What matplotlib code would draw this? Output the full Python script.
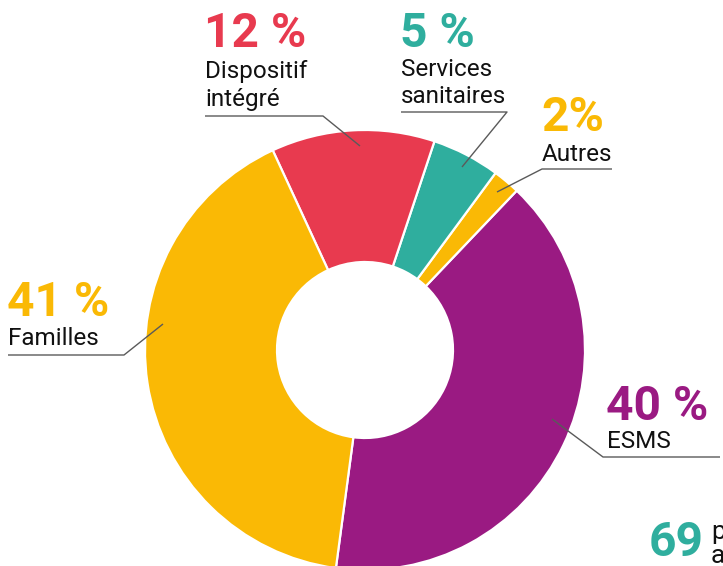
import matplotlib
matplotlib.use("Agg")
import matplotlib.pyplot as plt

# parts du donut, dans l'ordre anti-horaire depuis le bas
labels = ["ESMS", "Autres", "Services\nsanitaires", "Dispositif\nintégré", "Familles"]
values = [40, 2, 5, 12, 41]
pct_text = ["40 %", "2%", "5 %", "12 %", "41 %"]
colors = ["#9A1A82", "#FAB905", "#2FAE9E", "#E83A4F", "#FAB905"]

W, H = 723, 566

def Y(y):
    # coordonnées écran (y vers le bas) -> données
    return H - y

fig = plt.figure(figsize=(W / 100, H / 100), dpi=100)
ax = fig.add_axes([0, 0, 1, 1])

ax.pie(values, colors=colors, startangle=262.4, counterclock=True,
       center=(365, Y(350)), radius=220,
       wedgeprops=dict(width=132, edgecolor="white", linewidth=1.6))
ax.set_xlim(0, W)
ax.set_ylim(0, H)
ax.set_aspect("equal")
ax.axis("off")

# placement des étiquettes (x texte, baseline %, baselines texte, ligne de rappel)
layout = {
    "ESMS": dict(x=606, pb=420, lb=[448], line=[(552, 419), (603, 457), (720, 457)]),
    "Autres": dict(x=541, pb=131, lb=[161], line=[(497, 192), (542, 169), (612, 169)]),
    "Services\nsanitaires": dict(x=400, pb=47, lb=[76, 103], line=[(462, 167), (507, 112), (401, 112)]),
    "Dispositif\nintégré": dict(x=204, pb=47, lb=[78, 106], line=[(360, 146), (323, 116), (205, 116)]),
    "Familles": dict(x=7, pb=316, lb=[345], line=[(163, 324), (124, 355), (8, 355)]),
}

FONT = ["Roboto", "DejaVu Sans"]

for lab, pct, col in zip(labels, pct_text, colors):
    L = layout[lab]
    ax.text(L["x"], Y(L["pb"]), pct, color=col, fontsize=34.5, fontweight="bold",
            family=FONT, ha="left", va="baseline")
    for line, b in zip(lab.split("\n"), L["lb"]):
        ax.text(L["x"] + 1, Y(b), line, color="#111111", fontsize=17.5,
                family=FONT, ha="left", va="baseline")
    xs = [p[0] for p in L["line"]]
    ys = [Y(p[1]) for p in L["line"]]
    ax.plot(xs, ys, color="#5a5a5a", lw=1.0, solid_capstyle="butt")

# bloc coupé en bas à droite
ax.text(649, Y(556), "69", color="#2FAE9E", fontsize=34.5, fontweight="bold",
        family=FONT, ha="left", va="baseline")
ax.text(711, Y(539), "p", color="#111111", fontsize=19, family=FONT,
        ha="left", va="baseline")
ax.text(711, Y(563), "a", color="#111111", fontsize=19, family=FONT,
        ha="left", va="baseline")

fig.savefig("out.png", dpi=100)
